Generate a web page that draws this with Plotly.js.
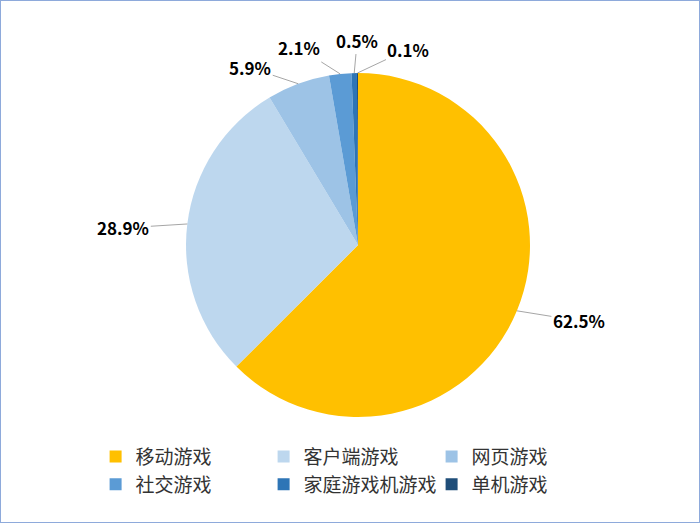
<!DOCTYPE html>
<html lang="zh">
<head>
    <meta charset="UTF-8">
    <script src="https://cdn.plot.ly/plotly-3.0.1.min.js"></script>
    <style>
        body { margin: 0; background: #fff; }
        #chart { width: 700px; height: 523px; }
    </style>
</head>
<body>
    <div id="chart"></div>
    <script>
        // game market share (%)
        var categories = ['移动游戏', '客户端游戏', '网页游戏', '社交游戏', '家庭游戏机游戏', '单机游戏']
        var shares = [62.5, 28.9, 5.9, 2.1, 0.5, 0.1]
        var colors = ['#FFC000', '#BDD7EE', '#9DC3E6', '#5B9BD5', '#2E75B6', '#1F4E79']

        // where each data label sits relative to its slice edge (px)
        var labelOffsets = [[62, 10], [-64, 4], [-48, -16], [-41, -26], [3, -33], [51, -24]]

        var W = 700, H = 523
        // side margins keep the legend at 3 entries per row
        var ml = 50, mr = 50
        var gw = W - ml - mr
        var domX = [0.2267, 0.8]
        var domY = [0.2027, 0.8604]

        var trace = {
            type: 'pie',
            labels: categories,
            values: shares,
            sort: false,
            direction: 'clockwise',
            rotation: 0,
            marker: { colors: colors },
            textinfo: 'none',
            domain: { x: domX, y: domY },
            hoverinfo: 'label+percent'
        }

        // leader lines point at the middle of each slice's outer edge
        var cx = ml + (domX[0] + domX[1]) / 2 * gw
        var cy = (1 - (domY[0] + domY[1]) / 2) * H
        var r = Math.min((domX[1] - domX[0]) * gw, (domY[1] - domY[0]) * H) / 2
        var total = shares.reduce(function(a, b) { return a + b }, 0)
        var annotations = []
        var cum = 0
        for (var i = 0; i < shares.length; i++) {
            var mid = (cum + shares[i] / 2) / total * 2 * Math.PI
            cum += shares[i]
            var px = cx + r * Math.sin(mid)
            var py = cy - r * Math.cos(mid)
            annotations.push({
                xref: 'paper', yref: 'paper',
                x: (px - ml) / gw, y: 1 - py / H,
                text: '<b>' + shares[i].toFixed(1) + '%</b>',
                showarrow: true, arrowhead: 0, arrowwidth: 1, arrowcolor: '#A6A6A6',
                ax: labelOffsets[i][0], ay: labelOffsets[i][1],
                standoff: 0,
                font: { family: 'Noto Sans CJK SC', size: 17, color: '#000' }
            })
        }

        var layout = {
            width: W,
            height: H,
            margin: { l: ml, r: mr, t: 0, b: 0 },
            paper_bgcolor: '#fff',
            font: { family: 'Noto Sans CJK SC', color: '#333' },
            showlegend: true,
            legend: {
                orientation: 'h',
                x: 0.496,
                y: 0.163,
                xanchor: 'center',
                yanchor: 'top',
                traceorder: 'normal',
                entrywidth: 123,
                entrywidthmode: 'pixels',
                font: { size: 19, color: '#333' }
            },
            annotations: annotations,
            shapes: [{
                type: 'rect', xref: 'paper', yref: 'paper',
                x0: -ml / gw, x1: 1 + mr / gw, y0: 0, y1: 1,
                line: { color: '#8EAADB', width: 2 }
            }]
        }

        Plotly.newPlot('chart', [trace], layout, { displayModeBar: false })
    </script>
</body>
</html>
